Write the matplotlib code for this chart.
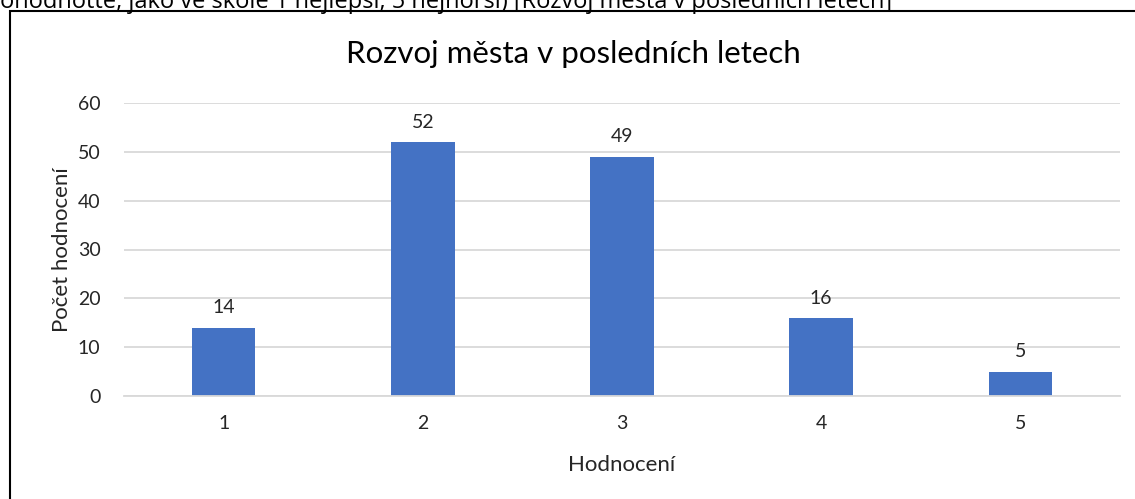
import matplotlib.pyplot as plt
from matplotlib.patches import Rectangle

categories = ["1", "2", "3", "4", "5"]
counts = [14, 52, 49, 16, 5]

W, H = 1135, 499
fig = plt.figure(figsize=(W / 100, H / 100), dpi=100)
plt.rcParams["font.family"] = ["Lato", "DejaVu Sans"]

# clipped question text above the chart frame
fig.text(0, 1 - 8 / H,
         "ohodnoťte, jako ve škole 1 nejlepší, 5 nejhorší) [Rozvoj města v posledních letech]",
         fontsize=17, family=["Open Sans", "DejaVu Sans"], color="black",
         ha="left", va="baseline")

# chart frame (runs off the right and bottom edges)
fig.patches.append(Rectangle((10 / W, -0.1), 1.2, 1 - 10.5 / H + 0.1,
                             transform=fig.transFigure, fill=False,
                             edgecolor="black", linewidth=1.5))

ax = fig.add_axes([124 / W, 1 - 396 / H, (1120 - 124) / W, (396 - 103) / H])
x = range(len(categories))
bars = ax.bar(x, counts, width=0.32, color="#4472C4", zorder=2)
for xi, v in zip(x, counts):
    ax.text(xi, v + 2.3, str(v), ha="center", va="bottom", fontsize=14, color="#262626")

ax.set_xlim(-0.5, len(categories) - 0.5)
ax.set_ylim(0, 60)
ax.set_yticks(range(0, 61, 10))
ax.set_xticks(list(x))
ax.set_xticklabels(categories)
ax.grid(axis="y", color="#d9d9d9", linewidth=1.3, zorder=0)
for s in ["top", "right", "left"]:
    ax.spines[s].set_visible(False)
ax.spines["bottom"].set_color("#d9d9d9")
ax.spines["bottom"].set_linewidth(1.3)
ax.tick_params(length=0, labelsize=14, colors="#262626", pad=14)
ax.tick_params(axis="y", pad=17)

ax.set_xlabel("Hodnocení", fontsize=16, color="#262626", labelpad=16)
ax.set_ylabel("Počet hodnocení", fontsize=16, color="#262626", labelpad=4)
fig.text(573 / W, 1 - 63 / H, "Rozvoj města v posledních letech",
         ha="center", va="baseline", fontsize=22.5, color="black")

fig.savefig("out.png", dpi=100)
